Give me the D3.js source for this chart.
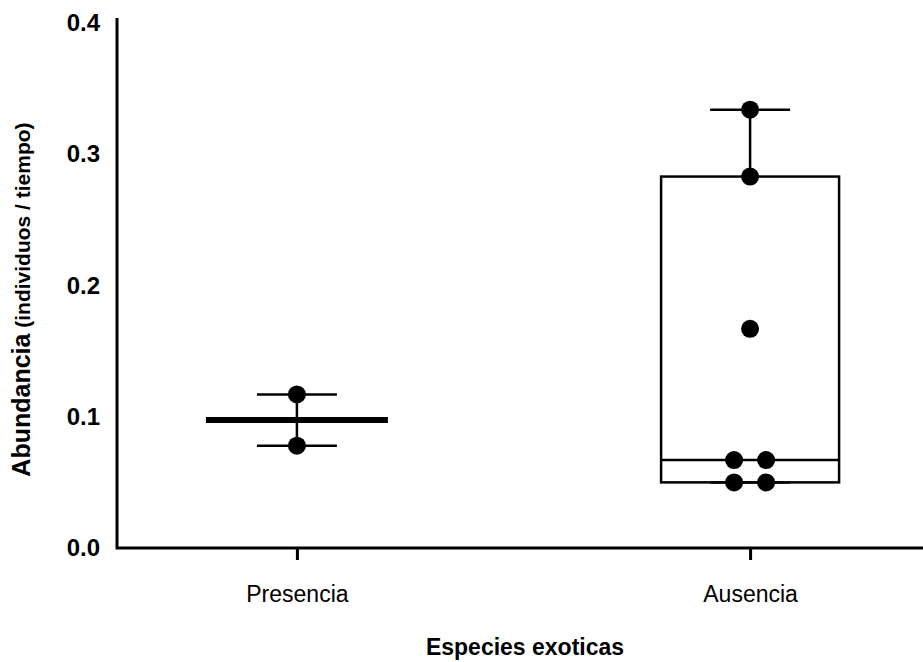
<!DOCTYPE html>
<html>
<head>
<meta charset="utf-8">
<script src="https://cdn.jsdelivr.net/npm/d3@7"></script>
<style>
  html, body { margin: 0; padding: 0; background: #fff; }
  svg { display: block; font-family: "Liberation Sans", Arial, Helvetica, sans-serif; }
</style>
</head>
<body>
<div id="chart"></div>
<script>
// Group names along the x axis
const categories = ["Presencia", "Ausencia"];
// Abundance values (individuos / tiempo) for each group
const presenciaValues = [0.117, 0.078];
const ausenciaValues = [0.334, 0.283, 0.167, 0.067, 0.067, 0.050, 0.050];
// Y axis ticks
const yTicks = [0.0, 0.1, 0.2, 0.3, 0.4];

const groups = [
  { name: categories[0], values: presenciaValues },
  { name: categories[1], values: ausenciaValues }
];

const W = 923, H = 662;
const svg = d3.select("#chart").append("svg")
  .attr("width", W).attr("height", H);

const axisX0 = 117;
const y = d3.scaleLinear().domain([0, 0.4]).range([548, 23]);
const x = d3.scalePoint().domain(categories).range([axisX0, 930]).padding(0.397);

// Quantile using the (n+1)p rank rule, clamped to the data range
function quart(sorted, p) {
  const n = sorted.length;
  let pos = (n + 1) * p - 1;
  if (pos <= 0) return sorted[0];
  if (pos >= n - 1) return sorted[n - 1];
  const lo = Math.floor(pos), f = pos - lo;
  return sorted[lo] + f * (sorted[lo + 1] - sorted[lo]);
}

const boxW = 178, capW = 80, dotR = 9, dotGap = 32;

// Axes
svg.append("path")
  .attr("d", `M${axisX0},${y(0.4) - 5}V${y(0)}H${W + 2}`)
  .attr("fill", "none").attr("stroke", "#000").attr("stroke-width", 3);

const yAxis = d3.axisLeft(y).tickValues(yTicks).tickFormat(d3.format(".1f")).tickSize(0).tickPadding(17);
const gy = svg.append("g").attr("transform", `translate(${axisX0},0)`).call(yAxis);
gy.select(".domain").remove();
gy.selectAll("text")
  .attr("font-size", 24).attr("font-weight", "bold").attr("fill", "#000")
  .attr("font-family", "'Liberation Sans', Arial, sans-serif");

const xAxis = d3.axisBottom(x).tickSize(12).tickPadding(26);
const gx = svg.append("g").attr("transform", `translate(0,${y(0)})`).call(xAxis);
gx.select(".domain").remove();
gx.selectAll(".tick line").attr("stroke", "#000").attr("stroke-width", 3);
gx.selectAll("text")
  .attr("font-size", 23).attr("fill", "#000")
  .attr("font-family", "'Liberation Sans', Arial, sans-serif");

// Axis titles
svg.append("text")
  .attr("x", 525).attr("y", 655)
  .attr("text-anchor", "middle")
  .attr("font-size", 23).attr("font-weight", "bold")
  .text("Especies exoticas");

const yt = svg.append("text")
  .attr("transform", `translate(30,${(y(0) + y(0.4)) / 2 + 14}) rotate(-90)`)
  .attr("text-anchor", "middle")
  .attr("font-weight", "bold");
yt.append("tspan").attr("font-size", 25).text("Abundancia");
yt.append("tspan").attr("font-size", 21).text(" (individuos / tiempo)");

// Box / range summaries and points
groups.forEach(g => {
  const s = g.values.slice().sort(d3.ascending);
  const cx = x(g.name);
  const med = d3.median(s);
  const mn = s[0], mx = s[s.length - 1];
  const q1 = quart(s, 0.25), q3 = quart(s, 0.75);
  const grp = svg.append("g");
  const line = (x1, y1, x2, y2, w) => grp.append("line")
    .attr("x1", x1).attr("y1", y1).attr("x2", x2).attr("y2", y2)
    .attr("stroke", "#000").attr("stroke-width", w);

  if (s.length < 3) {
    // Median with range
    line(cx, y(mx), cx, y(mn), 2.5);
    line(cx - capW / 2, y(mx), cx + capW / 2, y(mx), 2.5);
    line(cx - capW / 2, y(mn), cx + capW / 2, y(mn), 2.5);
    line(cx - boxW / 2 - 2, y(med), cx + boxW / 2 + 2, y(med), 6);
  } else {
    // Box and whiskers (min to max)
    line(cx, y(q3), cx, y(mx), 2.5);
    line(cx, y(q1), cx, y(mn), 2.5);
    line(cx - capW / 2, y(mx), cx + capW / 2, y(mx), 2.5);
    line(cx - capW / 2, y(mn), cx + capW / 2, y(mn), 2.5);
    grp.append("rect")
      .attr("x", cx - boxW / 2).attr("y", y(q3))
      .attr("width", boxW).attr("height", y(q1) - y(q3))
      .attr("fill", "none").attr("stroke", "#000").attr("stroke-width", 2.5);
    line(cx - boxW / 2, y(med), cx + boxW / 2, y(med), 2.5);
  }

  // Points; repeated values are spread side by side
  const counts = d3.rollup(s, v => v.length, d => d);
  const seen = new Map();
  s.forEach(v => {
    const k = counts.get(v);
    const i = seen.get(v) || 0;
    seen.set(v, i + 1);
    const off = (i - (k - 1) / 2) * dotGap;
    grp.append("circle")
      .attr("cx", cx + off).attr("cy", y(v)).attr("r", dotR)
      .attr("fill", "#000");
  });
});
</script>
</body>
</html>
